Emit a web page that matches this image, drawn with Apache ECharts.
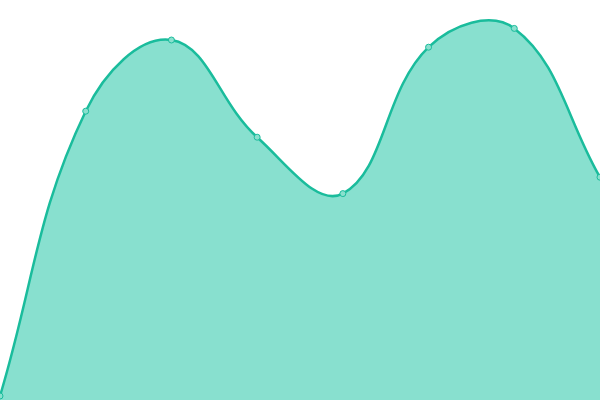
<!DOCTYPE html>
<html><head><meta charset="utf-8">
<script src="https://cdn.jsdelivr.net/npm/echarts@6/dist/echarts.min.js"></script>
<style>html,body{margin:0;padding:0;background:#fff}#c{width:600px;height:400px}</style>
</head><body><div id="c"></div>
<script>
const categories = ['A','B','C','D','E','F','G','H'];
const values = [10, 722, 900, 657, 516, 882, 929, 557];
const TENSION = 0.4;

function splinePath(pts) {
  // cardinal-style spline control points (tension-based, no clamping)
  const cps = pts.map((p, i) => {
    const prev = pts[i - 1] || p, next = pts[i + 1] || p;
    const d01 = Math.hypot(p[0] - prev[0], p[1] - prev[1]);
    const d12 = Math.hypot(next[0] - p[0], next[1] - p[1]);
    let s01 = d01 / (d01 + d12), s12 = d12 / (d01 + d12);
    if (isNaN(s01)) s01 = 0; if (isNaN(s12)) s12 = 0;
    const fa = TENSION * s01, fb = TENSION * s12;
    return {
      prev: [p[0] - fa * (next[0] - prev[0]), p[1] - fa * (next[1] - prev[1])],
      next: [p[0] + fb * (next[0] - prev[0]), p[1] + fb * (next[1] - prev[1])]
    };
  });
  let d = 'M' + pts[0][0] + ' ' + pts[0][1];
  for (let i = 1; i < pts.length; i++) {
    const c1 = cps[i - 1].next, c2 = cps[i].prev, p = pts[i];
    d += ' C' + c1[0] + ' ' + c1[1] + ' ' + c2[0] + ' ' + c2[1] + ' ' + p[0] + ' ' + p[1];
  }
  return d;
}

const chart = echarts.init(document.getElementById('c'), null, {renderer:'canvas'});
chart.setOption({
  animation:false,
  grid:{left:0,right:0,top:0,bottom:0},
  xAxis:{type:'category',data:categories,boundaryGap:false,show:false},
  yAxis:{type:'value',min:0,max:1000,show:false},
  series:[{
    type:'custom',
    data: values.map((v, i) => [i, v]),
    clip:false,
    renderItem: function (params, api) {
      if (params.dataIndex !== 0) return null;
      const pts = values.map((v, i) => api.coord([i, v]));
      const base = api.coord([0, 0])[1];
      const line = splinePath(pts);
      const area = line + ' L' + pts[pts.length - 1][0] + ' ' + base + ' L' + pts[0][0] + ' ' + base + ' Z';
      return {
        type:'group',
        children:[
          {type:'path', shape:{pathData:area}, style:{fill:'#88e0cf', stroke:null}},
          {type:'path', shape:{pathData:line}, style:{fill:null, stroke:'#1abc9c', lineWidth:2.5}}
        ]
      };
    }
  },{
    type:'scatter',
    data: values.map((v, i) => [i, v]),
    symbol:'circle', symbolSize:6,
    itemStyle:{color:'#8ae0ce', borderColor:'#1abc9c', borderWidth:1, opacity:1},
    z:5
  }]
});
</script></body></html>
